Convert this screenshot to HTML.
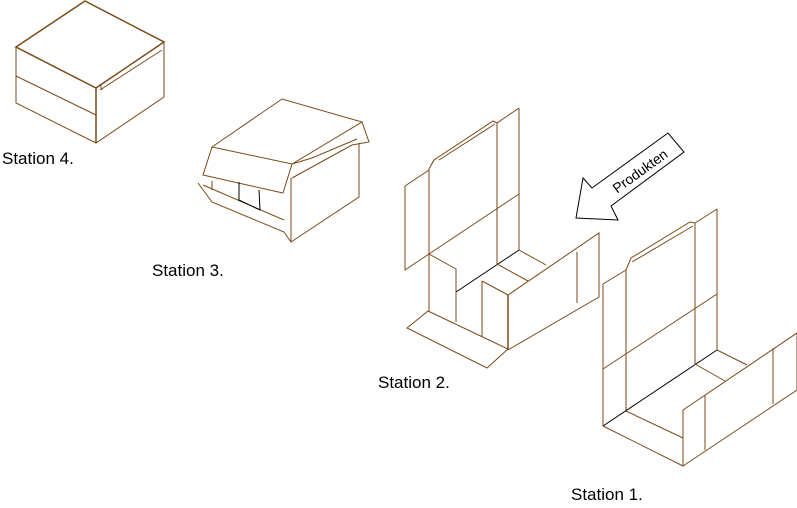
<!DOCTYPE html>
<html><head><style>
body{margin:0;background:#fff;width:797px;height:508px;overflow:hidden}
svg{position:absolute;left:0;top:0}
</style></head><body>
<svg width="797" height="508" viewBox="0 0 797 508" font-family="Liberation Sans, sans-serif">
<g fill="none" stroke="#7a4a1a" stroke-width="1">
<!-- Station 4 -->
<path d="M16,47 L85,1 L164,42 L96,88 Z" stroke-width="1.5"/>
<path d="M16,47 L16,103 L96,143 L164,97 L164,42"/>
<path d="M96,88 L96,143" stroke-width="1.5"/>
<path d="M16,76 L96,115"/>
<path d="M100,90 L162,50 M100,84 L102,90"/>
<!-- Station 3 -->
<path d="M212,147 L282,99 L362,122 L292,164 Z"/>
<path d="M212,147 L203,175 L283,193 L292,164"/>
<path d="M362,122 L369,142 L352,145 L292,178"/>
<path d="M292,164 L312,158 L357,139"/>
<path d="M359,143 L359,197 L291,242 L291,178"/>
<path d="M198,183 L212,202 L284,232 L291,242"/>
<path d="M212,181 L212,190 M203,185 L284,220"/>
<path d="M239,182 L239,200 L260,210 L259,190" stroke="#000"/>
<!-- Station 2 -->
<path d="M405,186 L429,170 M405,186 L405,270 L429,254"/>
<path d="M429,169 L429,311 M497,123 L497,264 M519,108 L519,250"/>
<path d="M429,169 L434,160 L493,121 L497,123 L519,108"/>
<path d="M434,160 L431,165 M439,160 L495,124"/>
<path d="M429,254 L519,194"/>
<path d="M429,254 L456,269 L456,322"/>
<path d="M456,292 L519,250" stroke="#000"/>
<path d="M497,264 L528,281 M519,250 L546,265"/>
<path d="M482,281 L482,337 M482,281 L508,295 L599,233 L599,297 L508,350"/>
<path d="M508,295 L508,350" stroke-width="1.5"/>
<path d="M577,252 L577,303"/>
<path d="M407,328 L428,311 L508,349 L487,368 Z"/>
<!-- Station 1 -->
<path d="M603,284 L626,270 M603,284 L603,426"/>
<path d="M626,270 L626,411 M695,223 L695,364 M717,209 L717,350"/>
<path d="M626,270 L631,258 L690,222 L695,223 L717,209"/>
<path d="M632,262 L693,226"/>
<path d="M603,369 L717,294"/>
<path d="M603,426 L683,466 M626,411 L683,438"/>
<path d="M603,426 L717,350" stroke="#000"/>
<path d="M695,364 L725,381 M717,350 L747,365"/>
<path d="M683,410 L797,333 L797,390 L683,466 Z"/>
<path d="M705,395 L705,450 M773,348 L773,404"/>
</g>
<!-- arrow -->
<path d="M576,218 L583,178 L592,188 L668,133 L684,152 L611,206 L618,220 Z" fill="#fff" stroke="#000" stroke-width="1"/>
<text x="0" y="0" font-size="14" transform="translate(643,175) rotate(-36)" text-anchor="middle">Produkten</text>
<g font-size="17" fill="#000">
<text x="2" y="164">Station 4.</text>
<text x="152" y="276">Station 3.</text>
<text x="378" y="388">Station 2.</text>
<text x="571" y="500">Station 1.</text>
</g>
</svg>
</body></html>
